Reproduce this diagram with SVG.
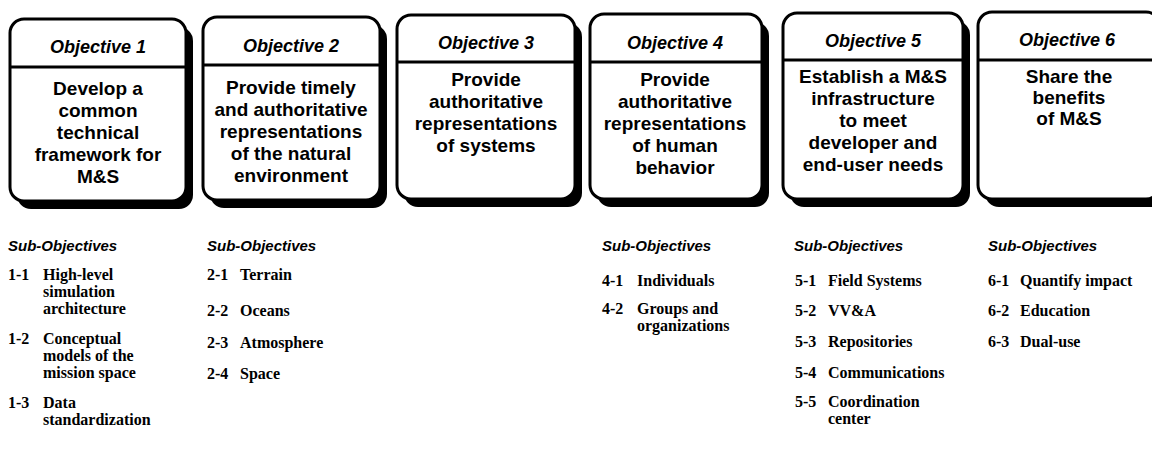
<svg xmlns="http://www.w3.org/2000/svg" width="1152" height="455" viewBox="0 0 1152 455">
<style>
.shadow{fill:#000}
.box{fill:#fff;stroke:#000;stroke-width:3}
.div{stroke:#000;stroke-width:3}
.hd{font-family:"Liberation Sans",Arial,sans-serif;font-weight:bold;font-style:italic;font-size:18px;text-anchor:middle;fill:#000}
.bd{font-family:"Liberation Sans",Arial,sans-serif;font-weight:bold;font-size:19px;text-anchor:middle;fill:#000}
.sh{font-family:"Liberation Sans",Arial,sans-serif;font-weight:bold;font-style:italic;font-size:15px;fill:#000}
.it{font-family:"Liberation Serif","Times New Roman",serif;font-weight:bold;font-size:16px;fill:#000}
</style>
<rect width="1152" height="455" fill="#fff"/>
<g id="objective1">
<rect class="shadow" x="17" y="27" width="176" height="182" rx="14"/>
<rect class="box" x="10" y="19" width="176" height="182" rx="14"/>
<line class="div" x1="10" y1="67" x2="186" y2="67"/>
<text class="hd" x="98" y="53">Objective 1</text>
<text class="bd" x="98" y="95">Develop a</text>
<text class="bd" x="98" y="117">common</text>
<text class="bd" x="98" y="139">technical</text>
<text class="bd" x="98" y="161">framework for</text>
<text class="bd" x="98" y="183">M&amp;S</text>
</g>
<g id="objective2">
<rect class="shadow" x="210" y="25" width="177" height="183" rx="14"/>
<rect class="box" x="203" y="17" width="177" height="183" rx="14"/>
<line class="div" x1="203" y1="65" x2="380" y2="65"/>
<text class="hd" x="291" y="52">Objective 2</text>
<text class="bd" x="291" y="94">Provide timely</text>
<text class="bd" x="291" y="116">and authoritative</text>
<text class="bd" x="291" y="138">representations</text>
<text class="bd" x="291" y="160">of the natural</text>
<text class="bd" x="291" y="182">environment</text>
</g>
<g id="objective3">
<rect class="shadow" x="404" y="23" width="178" height="184" rx="14"/>
<rect class="box" x="397" y="15" width="178" height="184" rx="14"/>
<line class="div" x1="397" y1="62" x2="575" y2="62"/>
<text class="hd" x="486" y="49">Objective 3</text>
<text class="bd" x="486" y="86">Provide</text>
<text class="bd" x="486" y="108">authoritative</text>
<text class="bd" x="486" y="130">representations</text>
<text class="bd" x="486" y="152">of systems</text>
</g>
<g id="objective4">
<rect class="shadow" x="597" y="22" width="172" height="185" rx="14"/>
<rect class="box" x="590" y="14" width="172" height="185" rx="14"/>
<line class="div" x1="590" y1="62" x2="762" y2="62"/>
<text class="hd" x="675" y="49">Objective 4</text>
<text class="bd" x="675" y="86">Provide</text>
<text class="bd" x="675" y="108">authoritative</text>
<text class="bd" x="675" y="130">representations</text>
<text class="bd" x="675" y="152">of human</text>
<text class="bd" x="675" y="174">behavior</text>
</g>
<g id="objective5">
<rect class="shadow" x="790" y="21" width="180" height="186" rx="14"/>
<rect class="box" x="783" y="13" width="180" height="186" rx="14"/>
<line class="div" x1="783" y1="60" x2="963" y2="60"/>
<text class="hd" x="873" y="47">Objective 5</text>
<text class="bd" x="873" y="83">Establish a M&amp;S</text>
<text class="bd" x="873" y="105">infrastructure</text>
<text class="bd" x="873" y="127">to meet</text>
<text class="bd" x="873" y="149">developer and</text>
<text class="bd" x="873" y="171">end-user needs</text>
</g>
<g id="objective6">
<rect class="shadow" x="985" y="20" width="182" height="187" rx="14"/>
<rect class="box" x="978" y="12" width="182" height="187" rx="14"/>
<line class="div" x1="978" y1="60" x2="1160" y2="60"/>
<text class="hd" x="1067" y="46">Objective 6</text>
<text class="bd" x="1069" y="83">Share the</text>
<text class="bd" x="1069" y="104">benefits</text>
<text class="bd" x="1069" y="125">of M&amp;S</text>
</g>
<g id="sub1">
<text class="sh" x="8" y="251">Sub-Objectives</text>
<text class="it" x="8" y="280">1-1</text><text class="it" x="43" y="280">High-level</text>
<text class="it" x="43" y="297">simulation</text>
<text class="it" x="43" y="314">architecture</text>
<text class="it" x="8" y="344">1-2</text><text class="it" x="43" y="344">Conceptual</text>
<text class="it" x="43" y="361">models of the</text>
<text class="it" x="43" y="378">mission space</text>
<text class="it" x="8" y="408">1-3</text><text class="it" x="43" y="408">Data</text>
<text class="it" x="43" y="425">standardization</text>
</g>
<g id="sub2">
<text class="sh" x="207" y="251">Sub-Objectives</text>
<text class="it" x="207" y="280">2-1</text><text class="it" x="240" y="280">Terrain</text>
<text class="it" x="207" y="316">2-2</text><text class="it" x="240" y="316">Oceans</text>
<text class="it" x="207" y="348">2-3</text><text class="it" x="240" y="348">Atmosphere</text>
<text class="it" x="207" y="379">2-4</text><text class="it" x="240" y="379">Space</text>
</g>
<g id="sub4">
<text class="sh" x="602" y="251">Sub-Objectives</text>
<text class="it" x="602" y="286">4-1</text><text class="it" x="637" y="286">Individuals</text>
<text class="it" x="602" y="314">4-2</text><text class="it" x="637" y="314">Groups and</text>
<text class="it" x="637" y="331">organizations</text>
</g>
<g id="sub5">
<text class="sh" x="794" y="251">Sub-Objectives</text>
<text class="it" x="795" y="286">5-1</text><text class="it" x="828" y="286">Field Systems</text>
<text class="it" x="795" y="316">5-2</text><text class="it" x="828" y="316">VV&amp;A</text>
<text class="it" x="795" y="347">5-3</text><text class="it" x="828" y="347">Repositories</text>
<text class="it" x="795" y="378">5-4</text><text class="it" x="828" y="378">Communications</text>
<text class="it" x="795" y="407">5-5</text><text class="it" x="828" y="407">Coordination</text>
<text class="it" x="828" y="424">center</text>
</g>
<g id="sub6">
<text class="sh" x="988" y="251">Sub-Objectives</text>
<text class="it" x="988" y="286">6-1</text><text class="it" x="1020" y="286">Quantify impact</text>
<text class="it" x="988" y="316">6-2</text><text class="it" x="1020" y="316">Education</text>
<text class="it" x="988" y="347">6-3</text><text class="it" x="1020" y="347">Dual-use</text>
</g>
<g id="connectors"/>
</svg>
